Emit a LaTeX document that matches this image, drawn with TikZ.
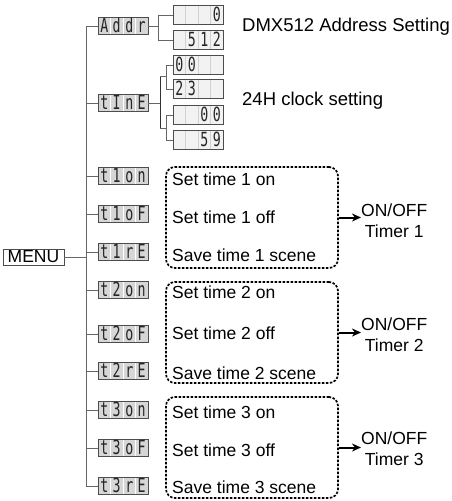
\documentclass[tikz,border=0pt]{standalone}
\usepackage{fontspec}
\setmainfont{Liberation Sans}
\newfontfamily\segfont[FakeStretch=0.68]{DejaVu Sans Mono}
\usetikzlibrary{arrows.meta}
\newcommand\dcells[4]{\makebox[12.5pt]{#1}\makebox[12.5pt]{#2}\makebox[12.5pt]{#3}\makebox[12.5pt]{#4}}
\tikzset{
  dispbase/.style={draw=black!70, line width=0.7pt, minimum width=50pt, inner sep=0pt,
    font={\segfont\fontsize{19.5}{19.5}\selectfont}, text=black!85},
  lbl/.style={dispbase, fill=black!16, minimum height=17pt, text height=12.5pt, text depth=0pt,
    path picture={\foreach \k in {1,2,3}{\draw[white, line width=0.7pt]
      ([xshift=\k*12.5pt]path picture bounding box.south west) --
      ([xshift=\k*12.5pt]path picture bounding box.north west);}}},
  val/.style={dispbase, fill=black!5, minimum height=19pt, text height=13.5pt, text depth=0pt,
    path picture={\foreach \k in {1,2,3}{\draw[black!18, line width=0.6pt]
      ([xshift=\k*12.5pt]path picture bounding box.south west) --
      ([xshift=\k*12.5pt]path picture bounding box.north west);}}},
  tree/.style={draw=black!60, line width=0.8pt},
  txt/.style={inner sep=0pt, font={\fontsize{17.5}{21}\selectfont}},
  bigtxt/.style={inner sep=0pt, font={\fontsize{18.5}{22}\selectfont}},
  menubox/.style={draw=black!70, line width=0.8pt, minimum width=61pt, minimum height=16pt,
    inner sep=0pt, font={\fontsize{17.5}{21}\selectfont}},
  grp/.style={draw=black, line width=1.7pt, dash pattern=on 2.5pt off 1.5pt,
    rounded corners=9pt, minimum width=172pt, minimum height=101pt, inner sep=0pt},
  arr/.style={draw=black, line width=2pt, -{Stealth[length=9pt,width=8pt]}}
}
\begin{document}
\begin{tikzpicture}[x=1pt,y=-1pt]
\useasboundingbox (0,0) rectangle (451,501);

% menu and bus
\node[menubox] (menu) at (33.5,257) {MENU};
\coordinate (bustop) at (86,26);
\coordinate (busbot) at (86,486);

% label displays
\node[lbl] (addr) at (123,26)  {\dcells{A}{d}{d}{r}};
\node[lbl] (time) at (123,103) {\dcells{t}{I}{n}{E}};
\node[lbl] (t1on) at (123,176) {\dcells{t}{1}{o}{n}};
\node[lbl] (t1of) at (123,214) {\dcells{t}{1}{o}{F}};
\node[lbl] (t1re) at (123,252) {\dcells{t}{1}{r}{E}};
\node[lbl] (t2on) at (123,290) {\dcells{t}{2}{o}{n}};
\node[lbl] (t2of) at (123,334) {\dcells{t}{2}{o}{F}};
\node[lbl] (t2re) at (123,371) {\dcells{t}{2}{r}{E}};
\node[lbl] (t3on) at (123,410) {\dcells{t}{3}{o}{n}};
\node[lbl] (t3of) at (123,448) {\dcells{t}{3}{o}{F}};
\node[lbl] (t3re) at (123,486) {\dcells{t}{3}{r}{E}};

% bus connections
\draw[tree] (bustop) -- (busbot);
\draw[tree] (menu.east) -- (menu.east -| bustop);
\foreach \n in {addr,time,t1on,t1of,t1re,t2on,t2of,t2re,t3on,t3of,t3re}{
  \draw[tree] (\n.west -| bustop) -- (\n.west);
}

% value displays
\node[val] (v0)   at (198,15)  {\dcells{}{}{}{0}};
\node[val] (v512) at (198,40)  {\dcells{}{5}{1}{2}};
\node[val] (v00a) at (198,65)  {\dcells{0}{0}{}{}};
\node[val] (v23)  at (198,89)  {\dcells{2}{3}{}{}};
\node[val] (v00b) at (198,115) {\dcells{}{}{0}{0}};
\node[val] (v59)  at (198,140) {\dcells{}{}{5}{9}};

% address branch
\coordinate (aj) at (158,26);
\draw[tree] (addr.east) -- (aj);
\draw[tree] (v0.west) -| (aj);
\draw[tree] (v512.west) -| (aj);

% time branch
\coordinate (tj) at (160,103);
\coordinate (tju) at (166,76);
\coordinate (tjl) at (166,128);
\draw[tree] (time.east) -- (tj);
\draw[tree, draw=black!80] (tju -| tj) -- (tjl -| tj);
\draw[tree] (tju -| tj) -- (tju);
\draw[tree] (tjl -| tj) -- (tjl);
\draw[tree] (v00a.west) -| (tju);
\draw[tree] (v23.west) -| (tju);
\draw[tree] (v00b.west) -| (tjl);
\draw[tree] (v59.west) -| (tjl);

\node[bigtxt, anchor=west] (dmx) at (242,27) {DMX512 Address Setting};
\node[bigtxt, anchor=west] (clk) at (242,101) {24H clock setting};

% timer groups
\node[grp] (g1) at (252,217.5) {};
\node[grp] (g2) at (252,332.5) {};
\node[grp] (g3) at (252,447.5) {};

\node[txt, anchor=west] (s1a) at (172,179) {Set time 1 on};
\node[txt, anchor=west] (s1b) at (172,217) {Set time 1 off};
\node[txt, anchor=west] (s1c) at (172,255) {Save time 1 scene};
\node[txt, anchor=west] (s2a) at (172,292) {Set time 2 on};
\node[txt, anchor=west] (s2b) at (172,333) {Set time 2 off};
\node[txt, anchor=west] (s2c) at (172,373) {Save time 2 scene};
\node[txt, anchor=west] (s3a) at (172,412) {Set time 3 on};
\node[txt, anchor=west] (s3b) at (172,450) {Set time 3 off};
\node[txt, anchor=west] (s3c) at (172,487) {Save time 3 scene};

\node[txt, align=center, anchor=west] (tm1) at (361,221) {ON/OFF\\Timer 1};
\node[txt, align=center, anchor=west] (tm2) at (361,335) {ON/OFF\\Timer 2};
\node[txt, align=center, anchor=west] (tm3) at (361,449) {ON/OFF\\Timer 3};

\draw[arr] (g1.east) -- (g1.east -| tm1.west);
\draw[arr] (g2.east) -- (g2.east -| tm2.west);
\draw[arr] (g3.east) -- (g3.east -| tm3.west);
\end{tikzpicture}
\end{document}
